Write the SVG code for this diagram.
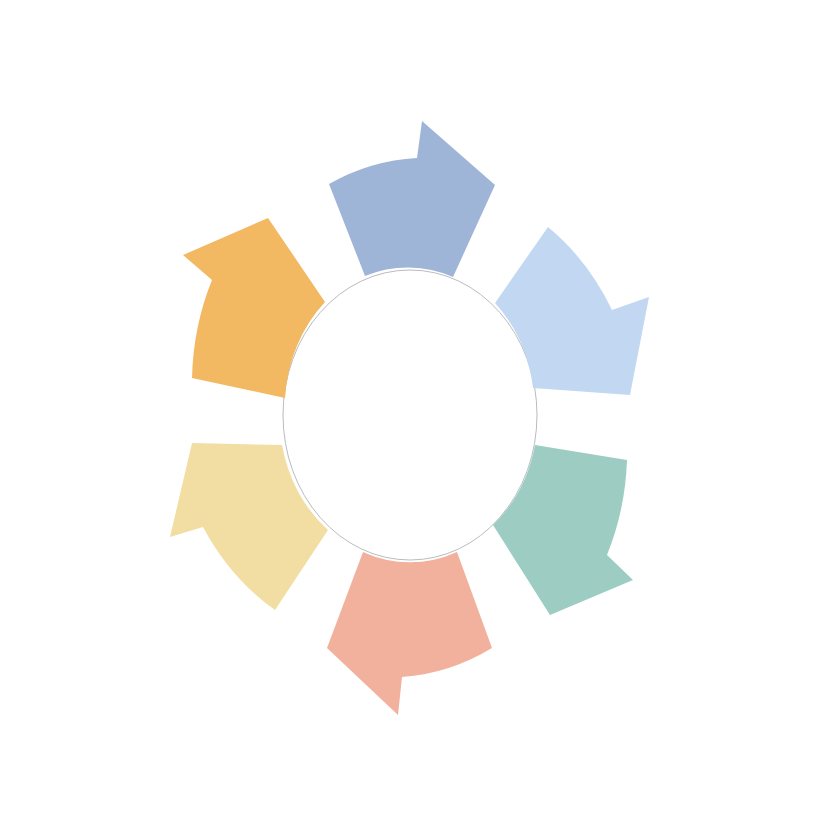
<svg xmlns="http://www.w3.org/2000/svg" width="822" height="840" viewBox="0 0 822 840">
<style>
.seg{stroke:none}
.ring{fill:none;stroke:#b8bcc0;stroke-width:1}
</style>
<rect width="822" height="840" fill="#ffffff"/>
<g id="connectors">
<ellipse class="ring" cx="410" cy="415" rx="127" ry="145"/>
</g>
<g id="seg-blue"><path class="seg" fill="#9fb5d7" d="M365,276 L329,184 A220,250 0 0 1 417,158 L422,121 L495,185 L453,277 A127,145 0 0 0 365,276 Z"/></g>
<g id="seg-lightblue"><path class="seg" fill="#c2d8f2" d="M495,303 L548,227 A220,250 0 0 1 612,310 L649,297 L630,395 L533,388 A127,145 0 0 0 495,303 Z"/></g>
<g id="seg-teal"><path class="seg" fill="#9dcdc2" d="M535,445 L627,460 A220,250 0 0 1 607,555 L633,580 L550,615 L493,525 A127,145 0 0 0 535,445 Z"/></g>
<g id="seg-salmon"><path class="seg" fill="#f2b19d" d="M457,552 L492,648 A220,250 0 0 1 402,677 L398,715 L327,648 L363,552 A127,145 0 0 0 457,552 Z"/></g>
<g id="seg-yellow"><path class="seg" fill="#f2dea3" d="M328,530 L275,610 A220,250 0 0 1 203,527 L170,537 L192,443 L282,445 A127,145 0 0 0 328,530 Z"/></g>
<g id="seg-orange"><path class="seg" fill="#f3b862" d="M285,398 L192,378 A220,250 0 0 1 212,280 L183,255 L268,218 L325,302 A127,145 0 0 0 285,398 Z"/></g>
</svg>
